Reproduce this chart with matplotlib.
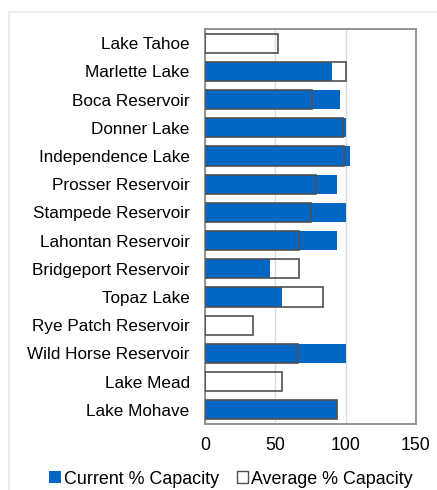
import matplotlib.pyplot as plt
from matplotlib.patches import Rectangle

plt.rcParams['font.family'] = ['Liberation Sans', 'DejaVu Sans']

# data
lakes = ['Lake Tahoe', 'Marlette Lake', 'Boca Reservoir', 'Donner Lake',
         'Independence Lake', 'Prosser Reservoir', 'Stampede Reservoir',
         'Lahontan Reservoir', 'Bridgeport Reservoir', 'Topaz Lake',
         'Rye Patch Reservoir', 'Wild Horse Reservoir', 'Lake Mead', 'Lake Mohave']
current_pct = [0, 90, 96, 100, 103, 94, 100, 94, 46, 55, 0, 100, 0, 94]
average_pct = [52, 100, 76, 98, 99, 79, 75, 67, 67, 84, 34, 66, 55, 94]
x_ticks = [0, 50, 100, 150]

blue = '#0068C4'
edge = '#505050'

fig = plt.figure(figsize=(4.37, 4.90), dpi=100)

# light outer chart border
fig.patches.append(Rectangle((9 / 437, -0.1), 1.2, 1 - 12 / 490 + 0.1,
                             transform=fig.transFigure, fill=False,
                             edgecolor='#e6e6e6', linewidth=1.2))

ax = fig.add_axes([205 / 437, 1 - 424 / 490, 211 / 437, 395 / 490])

y = range(len(lakes))
ax.barh(y, current_pct, height=0.68, color=blue, zorder=2,
        label='Current % Capacity')
ax.barh(y, average_pct, height=0.68, facecolor='none', edgecolor=edge,
        linewidth=1.2, zorder=3, label='Average % Capacity')

ax.set_xlim(0, 150)
ax.set_ylim(len(lakes) - 0.5, -0.5)
ax.set_yticks(list(y))
ax.set_yticklabels(lakes, fontsize=12.3)
ax.set_xticks(x_ticks)
ax.tick_params(axis='x', length=0, pad=9, labelsize=12.8)
ax.tick_params(axis='y', length=0, pad=11)
ax.grid(axis='x', color='#dcdcdc', linewidth=1, zorder=0)
ax.set_axisbelow(True)
for s in ax.spines.values():
    s.set_color('#8a8a8a')
    s.set_linewidth(1.3)

handles = [Rectangle((0, 0), 1, 1, facecolor=blue, edgecolor='none'),
           Rectangle((0, 0), 1, 1, facecolor='white', edgecolor=edge, linewidth=1)]
fig.legend(handles, ['Current % Capacity', 'Average % Capacity'],
           loc='center', bbox_to_anchor=(231 / 437, 11 / 490), ncol=2, frameon=False,
           fontsize=12.9, handlelength=0.65, handleheight=0.65,
           handletextpad=0.15, columnspacing=1.0, borderaxespad=0.0)

plt.savefig('out.png', dpi=100)
